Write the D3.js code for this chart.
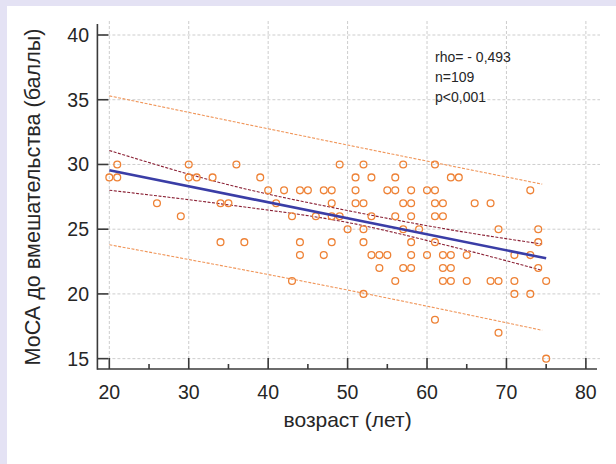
<!DOCTYPE html>
<html>
<head>
<meta charset="utf-8">
<script src="https://cdn.jsdelivr.net/npm/d3@7/dist/d3.min.js"></script>
<style>
  html, body { margin: 0; padding: 0; background: #e4e2f4; }
  svg { display: block; }
</style>
</head>
<body>
<svg id="chart" width="616" height="464"></svg>
<script>
// Age (years) and MoCA score before intervention, one entry per plotted point
const ages = [
  21, 30, 36, 49, 52, 57, 61,
  20, 21, 30, 31, 33, 39, 51, 53, 56, 63, 64,
  40, 42, 44, 45, 47, 48, 51, 55, 56, 58, 60, 61, 73,
  26, 34, 35, 41, 48, 51, 52, 57, 58, 61, 62, 66, 68,
  29, 43, 46, 48, 49, 53, 56, 58, 61, 62,
  50, 52, 57, 59, 69, 74,
  34, 37, 44, 48, 52, 58, 61, 74,
  44, 47, 53, 54, 55, 58, 60, 62, 63, 65, 71, 73,
  54, 57, 58, 62, 63, 74,
  43, 56, 62, 63, 65, 68, 69, 71, 75,
  52, 71, 73,
  61,
  69,
  75
];
const scores = [
  30, 30, 30, 30, 30, 30, 30,
  29, 29, 29, 29, 29, 29, 29, 29, 29, 29, 29,
  28, 28, 28, 28, 28, 28, 28, 28, 28, 28, 28, 28, 28,
  27, 27, 27, 27, 27, 27, 27, 27, 27, 27, 27, 27, 27,
  26, 26, 26, 26, 26, 26, 26, 26, 26, 26,
  25, 25, 25, 25, 25, 25,
  24, 24, 24, 24, 24, 24, 24, 24,
  23, 23, 23, 23, 23, 23, 23, 23, 23, 23, 23, 23,
  22, 22, 22, 22, 22, 22,
  21, 21, 21, 21, 21, 21, 21, 21, 21,
  20, 20, 20,
  18,
  17,
  15
];

// Regression line endpoints
const fitAges = [20, 75];
const fitValues = [29.55, 22.75];

// 95% confidence band of the regression line
const ciAges = [20, 35, 50, 63, 74.5];
const ciUpper = [31.08, 28.43, 26.44, 24.95, 23.85];
const ciLower = [28.01, 26.88, 25.52, 23.67, 21.82];

// 95% prediction band
const piAges = [20, 50, 74.5];
const piUpper = [35.3, 31.5, 28.48];
const piLower = [23.8, 20.3, 17.19];

// Axis ticks
const xTicks = [20, 30, 40, 50, 60, 70, 80];
const xMinorTicks = [25, 35, 45, 55, 65, 75];
const yTicks = [15, 20, 25, 30, 35, 40];

const statLines = ["rho= - 0,493", "n=109", "p<0,001"];
const xTitle = "возраст (лет)";
const yTitle = "МоСА до вмешательства (баллы)";

const svg = d3.select("#chart");

// white card over the lavender page
svg.append("rect")
  .attr("x", 7).attr("y", 6).attr("width", 609).attr("height", 458)
  .attr("fill", "#ffffff");

const x = d3.scaleLinear().domain([18.5, 81.4]).range([97.4, 597]);
const y = d3.scaleLinear().domain([14.2, 40.85]).range([369, 24]);

const plotLeft = x.range()[0], plotRight = x.range()[1];
const plotBottom = y.range()[0], plotTop = y.range()[1];

// grid
const grid = svg.append("g")
  .attr("stroke", "#cdcdcd").attr("stroke-width", 1)
  .attr("stroke-dasharray", "3,2");
grid.selectAll("line.v").data(xTicks).join("line")
  .attr("x1", d => x(d)).attr("x2", d => x(d))
  .attr("y1", plotBottom).attr("y2", plotTop - 3);
grid.selectAll("line.h").data(yTicks).join("line")
  .attr("x1", plotLeft).attr("x2", plotRight + 3)
  .attr("y1", d => y(d)).attr("y2", d => y(d));

// bands
const bandLine = (xs, ys) => d3.line()
  .x((d, i) => x(xs[i])).y(d => y(d))
  .curve(d3.curveMonotoneX)(ys);

svg.append("path").attr("d", bandLine(piAges, piUpper))
  .attr("fill", "none").attr("stroke", "#f0965a").attr("stroke-width", 1.1)
  .attr("stroke-dasharray", "3,1.5");
svg.append("path").attr("d", bandLine(piAges, piLower))
  .attr("fill", "none").attr("stroke", "#f0965a").attr("stroke-width", 1.1)
  .attr("stroke-dasharray", "3,1.5");
svg.append("path").attr("d", bandLine(ciAges, ciUpper))
  .attr("fill", "none").attr("stroke", "#8a2034").attr("stroke-width", 1.1)
  .attr("stroke-dasharray", "3,1.5");
svg.append("path").attr("d", bandLine(ciAges, ciLower))
  .attr("fill", "none").attr("stroke", "#8a2034").attr("stroke-width", 1.1)
  .attr("stroke-dasharray", "3,1.5");

// points
svg.append("g").selectAll("circle").data(ages).join("circle")
  .attr("cx", d => x(d))
  .attr("cy", (d, i) => y(scores[i]))
  .attr("r", 3.4)
  .attr("fill", "none")
  .attr("stroke", "#ee8236")
  .attr("stroke-width", 1.3);

// regression line
svg.append("path")
  .attr("d", d3.line().x((d, i) => x(fitAges[i])).y(d => y(d))(fitValues))
  .attr("fill", "none").attr("stroke", "#3a3da6").attr("stroke-width", 2.6);

// axes (ticks drawn inward)
const axisColor = "#3a3a3a";
const axes = svg.append("g").attr("stroke", axisColor).attr("stroke-width", 1.6);
axes.append("line").attr("x1", plotLeft).attr("x2", plotLeft).attr("y1", plotTop).attr("y2", plotBottom + 0.8);
axes.append("line").attr("x1", plotLeft).attr("x2", plotRight).attr("y1", plotBottom).attr("y2", plotBottom);
axes.selectAll("line.yt").data(yTicks).join("line")
  .attr("x1", plotLeft).attr("x2", plotLeft + 11)
  .attr("y1", d => y(d)).attr("y2", d => y(d));
axes.selectAll("line.xt").data(xTicks).join("line")
  .attr("x1", d => x(d)).attr("x2", d => x(d))
  .attr("y1", plotBottom).attr("y2", plotBottom - 11);
axes.selectAll("line.xm").data(xMinorTicks).join("line")
  .attr("x1", d => x(d)).attr("x2", d => x(d))
  .attr("y1", plotBottom).attr("y2", plotBottom - 5);

// tick labels
const font = "'Liberation Sans', Arial, sans-serif";
svg.append("g").selectAll("text").data(yTicks).join("text")
  .attr("x", 89).attr("y", d => y(d) + 7)
  .attr("text-anchor", "end")
  .attr("font-family", font).attr("font-size", 19.5)
  .attr("fill", "#262626")
  .text(d => d);
svg.append("g").selectAll("text").data(xTicks).join("text")
  .attr("x", d => x(d)).attr("y", 399)
  .attr("text-anchor", "middle")
  .attr("font-family", font).attr("font-size", 19.5)
  .attr("fill", "#262626")
  .text(d => d);

// axis titles
svg.append("text")
  .attr("x", (x(20) + x(80)) / 2).attr("y", 427)
  .attr("text-anchor", "middle")
  .attr("font-family", font).attr("font-size", 21)
  .attr("fill", "#262626")
  .text(xTitle);
svg.append("text")
  .attr("transform", "translate(40,197) rotate(-90)")
  .attr("text-anchor", "middle")
  .attr("font-family", font).attr("font-size", 21.6)
  .attr("fill", "#262626")
  .text(yTitle);

// correlation statistics
svg.append("g").selectAll("text").data(statLines).join("text")
  .attr("x", 435).attr("y", (d, i) => 62 + i * 19.8)
  .attr("font-family", font).attr("font-size", 14)
  .attr("fill", "#262626")
  .text(d => d);
</script>
</body>
</html>
